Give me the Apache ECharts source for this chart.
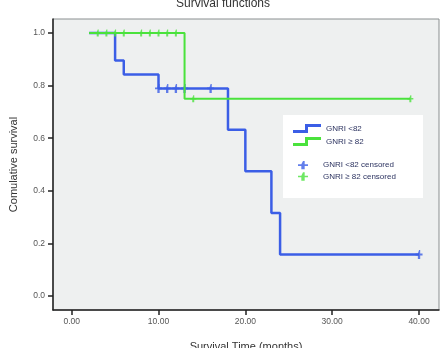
<!DOCTYPE html>
<html>
<head>
<meta charset="utf-8">
<script src="https://cdn.jsdelivr.net/npm/echarts@6/dist/echarts.min.js"></script>
<style>
  html, body { margin: 0; padding: 0; background: #fff; }
  #chart { width: 446px; height: 348px; }
</style>
</head>
<body>
<div id="chart"></div>
<script>
var dom = document.getElementById('chart');
var myChart = echarts.init(dom, null, { renderer: 'canvas' });

// step curves (time, cumulative survival)
let lowTimes = [2, 5, 6, 10, 18, 20, 23, 24, 40];
let lowSurv = [1.0, 0.895, 0.842, 0.789, 0.632, 0.474, 0.316, 0.158, 0.158];
let highTimes = [2, 13, 39];
let highSurv = [1.0, 0.75, 0.75];

// censored observations
let lowCensTimes = [10, 11, 12, 13, 16, 40];
let lowCensSurv = [0.789, 0.789, 0.789, 0.789, 0.789, 0.158];
let highCensTimes = [3, 4, 5, 6, 8, 9, 10, 11, 12, 14, 39];
let highCensSurv = [1, 1, 1, 1, 1, 1, 1, 1, 1, 0.75, 0.75];

let xTicks = [0, 10, 20, 30, 40];
let yTicks = [0, 0.2, 0.4, 0.6, 0.8, 1.0];

const blue = '#3b5ee6';
const green = '#4ae23c';
const plus = 'path://M4,0h2v4h4v2h-4v4h-4v-4h-4v-2h4z';
const stepIcon = 'path://M0,6h12v-6h16v3h-13v6h-15z';

function zip(a, b) {
  return a.map((v, i) => [v, b[i]]);
}

var option = {
  backgroundColor: '#fff',
  animation: false,
  title: {
    text: 'Survival functions',
    left: 'center',
    top: -7,
    textStyle: { fontSize: 12, fontWeight: 'normal', color: '#333', fontFamily: 'Liberation Sans' }
  },
  grid: {
    left: 53,
    right: 7,
    top: 19,
    bottom: 38,
    outerBoundsMode: 'none',
    containLabel: false,
    show: true,
    backgroundColor: '#eef0f0',
    borderColor: '#8a8f90',
    borderWidth: 1
  },
  legend: [
    {
      orient: 'vertical',
      left: 288,
      top: 119,
      itemWidth: 28,
      itemHeight: 9,
      itemGap: 4,
      textStyle: { fontSize: 8, color: '#2c3360', fontFamily: 'Liberation Sans' },
      data: [
        { name: 'GNRI <82', icon: stepIcon },
        { name: 'GNRI \u2265 82', icon: stepIcon }
      ]
    },
    {
      orient: 'vertical',
      left: 293,
      top: 156,
      itemWidth: 10,
      itemHeight: 10,
      itemGap: 3,
      textStyle: { fontSize: 8, color: '#2c3360', fontFamily: 'Liberation Sans', padding: [0, 0, 0, 10] },
      data: [
        { name: 'GNRI <82 censored', icon: plus },
        { name: 'GNRI \u2265 82 censored', icon: plus }
      ]
    }
  ],
  graphic: [
    {
      type: 'rect',
      shape: { x: 283, y: 115, width: 140, height: 83 },
      style: { fill: '#ffffff' },
      z: 3
    }
  ],
  xAxis: {
    type: 'value',
    min: -2.15,
    max: 42.3,
    name: 'Survival Time (months)',
    nameLocation: 'middle',
    nameGap: 31,
    nameTextStyle: { fontSize: 11, color: '#333', fontFamily: 'Liberation Sans' },
    axisLine: { show: true, onZero: false, lineStyle: { color: '#222', width: 1.5 } },
    axisTick: { show: true, customValues: xTicks, length: 5, lineStyle: { color: '#222', width: 1.5 } },
    axisLabel: {
      customValues: xTicks,
      margin: 7,
      fontSize: 8.5,
      color: '#555',
      fontFamily: 'Liberation Sans',
      formatter: (v) => v.toFixed(2)
    },
    splitLine: { show: false }
  },
  yAxis: {
    type: 'value',
    min: -0.053,
    max: 1.053,
    name: 'Comulative survival',
    nameLocation: 'middle',
    nameGap: 34,
    nameTextStyle: { fontSize: 11, color: '#333', fontFamily: 'Liberation Sans' },
    axisLine: { show: true, onZero: false, lineStyle: { color: '#222', width: 1.5 } },
    axisTick: { show: true, customValues: yTicks, length: 5, lineStyle: { color: '#222', width: 1.5 } },
    axisLabel: {
      customValues: yTicks,
      margin: 8,
      fontSize: 8.5,
      color: '#555',
      fontFamily: 'Liberation Sans',
      formatter: (v) => v.toFixed(1)
    },
    splitLine: { show: false }
  },
  series: [
    {
      name: 'GNRI <82',
      type: 'line',
      step: 'end',
      showSymbol: false,
      color: blue,
      lineStyle: { color: blue, width: 2.5 },
      data: zip(lowTimes, lowSurv)
    },
    {
      name: 'GNRI \u2265 82',
      type: 'line',
      step: 'end',
      showSymbol: false,
      color: green,
      lineStyle: { color: green, width: 2 },
      z: 3,
      data: zip(highTimes, highSurv)
    },
    {
      name: 'GNRI <82 censored',
      type: 'scatter',
      symbol: plus,
      symbolSize: [7, 9],
      color: blue,
      itemStyle: { color: blue },
      data: zip(lowCensTimes, lowCensSurv)
    },
    {
      name: 'GNRI \u2265 82 censored',
      type: 'scatter',
      symbol: plus,
      symbolSize: [6, 7],
      color: green,
      itemStyle: { color: green },
      z: 4,
      data: zip(highCensTimes, highCensSurv)
    }
  ]
};

myChart.setOption(option);
window.addEventListener('resize', myChart.resize);
</script>
</body>
</html>
